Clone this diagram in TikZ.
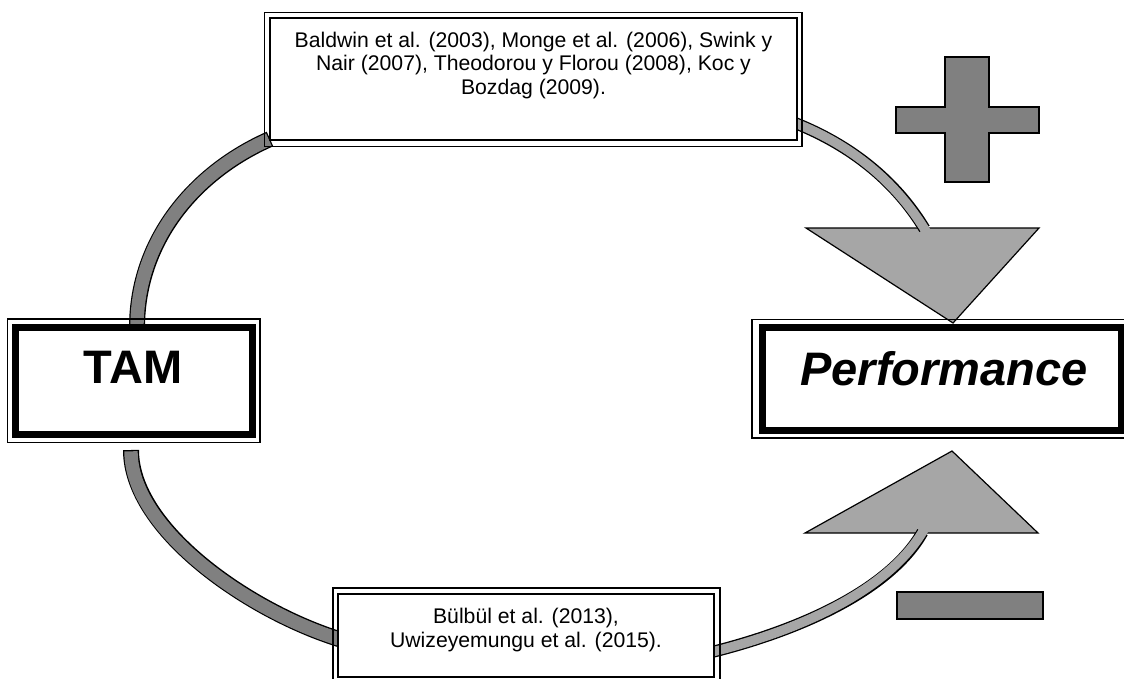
\documentclass[tikz,border=0pt]{standalone}
\usepackage{fontspec}
\setmainfont{Liberation Sans}
\usetikzlibrary{calc}
\definecolor{gdark}{HTML}{808080}
\definecolor{glight}{HTML}{A6A6A6}
\begin{document}
\begin{tikzpicture}[x=1pt,y=-1pt,
  lbandout/.style={draw=black,line width=16pt,line cap=butt},
  lbandin/.style={draw=gdark,line width=13.4pt,line cap=butt,shorten <=1.3pt,shorten >=1.3pt},
  rbandout/.style={draw=black,line width=12pt,line cap=butt,shorten >=-1pt},
  rbandin/.style={draw=glight,line width=9.4pt,line cap=butt,shorten <=1.3pt,shorten >=-5pt},
  head/.style={fill=glight,draw=black,line width=1.2pt,line join=miter},
  sign/.style={fill=gdark,draw=black,line width=1.2pt},
  heavybox/.style={draw=black,fill=white,line width=7pt,outer sep=0pt,inner sep=0pt},
  thinframe/.style={draw=black,line width=1.3pt},
  citebox/.style={draw=black,fill=white,line width=1.8pt,outer sep=0pt,inner sep=0pt},
  citetext/.style={font=\fontsize{21.2}{23.5}\selectfont,align=center,inner sep=0pt,anchor=north},
  bigtext/.style={font=\fontsize{47}{50}\selectfont\bfseries,inner sep=0pt}
]
\useasboundingbox (0,0) rectangle (1124,679);
\clip (0,0) rectangle (1124,679);
\fill[white] (0,0) rectangle (1124,679);

% coordinates for connectors
\coordinate (ta) at (137,328);
\coordinate (tb) at (270,139);
\coordinate (la) at (131,450);
\coordinate (lb) at (342,640);
\coordinate (ra) at (795,123);
\coordinate (rb) at (924,228);
\coordinate (sa) at (712,652);
\coordinate (sb) at (922,533);

% arrow heads and signs
\filldraw[head] (806,228) -- (1039,228) -- (953,323) -- cycle;
\filldraw[head] (805,533) -- (1038,533) -- (952,451) -- cycle;
\filldraw[sign] (945,57) -- (989,57) -- (989,107) -- (1039,107) -- (1039,133) -- (989,133) -- (989,182) -- (945,182) -- (945,133) -- (896,133) -- (896,107) -- (945,107) -- cycle;
\filldraw[sign] (897,592) rectangle (1043,619);

% curved bands
\draw[lbandout] (ta) .. controls (137,240) and (195,172) .. (tb);
\draw[lbandin]  (ta) .. controls (137,240) and (195,172) .. (tb);
\draw[lbandout] (la) .. controls (131,530) and (250,612) .. (lb);
\draw[lbandin]  (la) .. controls (131,530) and (250,612) .. (lb);
\draw[rbandout] (ra) .. controls (850,145) and (895,180) .. (rb);
\draw[rbandin]  (ra) .. controls (850,145) and (895,180) .. (rb);
\draw[rbandout] (sa) .. controls (800,630) and (890,590) .. (sb);
\draw[rbandin]  (sa) .. controls (800,630) and (890,590) .. (sb);

% TAM box
\node[heavybox,minimum width=236.5pt,minimum height=107pt] (tam) at (133.75,380.5) {};
\draw[thinframe] ($(tam.north west)+(-8,-8)$) rectangle ($(tam.south east)+(8,8.5)$);
\node[bigtext] (tamtext) at (133,367.5) {TAM};

% Performance box
\node[heavybox,minimum width=359pt,minimum height=103pt] (perf) at (941.5,378.5) {};
\draw[thinframe] ($(perf.north west)+(-10,-7.5)$) rectangle ($(perf.south east)+(8,8)$);
\node[bigtext] (perftext) at (944,369) {\itshape Performance};

% top citation box
\node[citebox,minimum width=527pt,minimum height=122pt] (topbox) at (533.5,79) {};
\draw[thinframe] ($(topbox.north west)+(-5.5,-5.5)$) rectangle ($(topbox.south east)+(5,6.5)$);
\node[citetext] (toptext) at (533.5,31.5) {Baldwin et al. (2003), Monge et al. (2006), Swink y\\Nair (2007), Theodorou y Florou (2008), Koc y\\Bozdag (2009).};

% bottom citation box
\node[citebox,minimum width=376pt,minimum height=83pt] (botbox) at (526,635.5) {};
\draw[thinframe] ($(botbox.north west)+(-5,-6)$) rectangle ($(botbox.south east)+(6,6)$);
\node[citetext] (bottext) at (526,608) {Bülbül et al. (2013),\\Uwizeyemungu et al. (2015).};
\end{tikzpicture}
\end{document}
